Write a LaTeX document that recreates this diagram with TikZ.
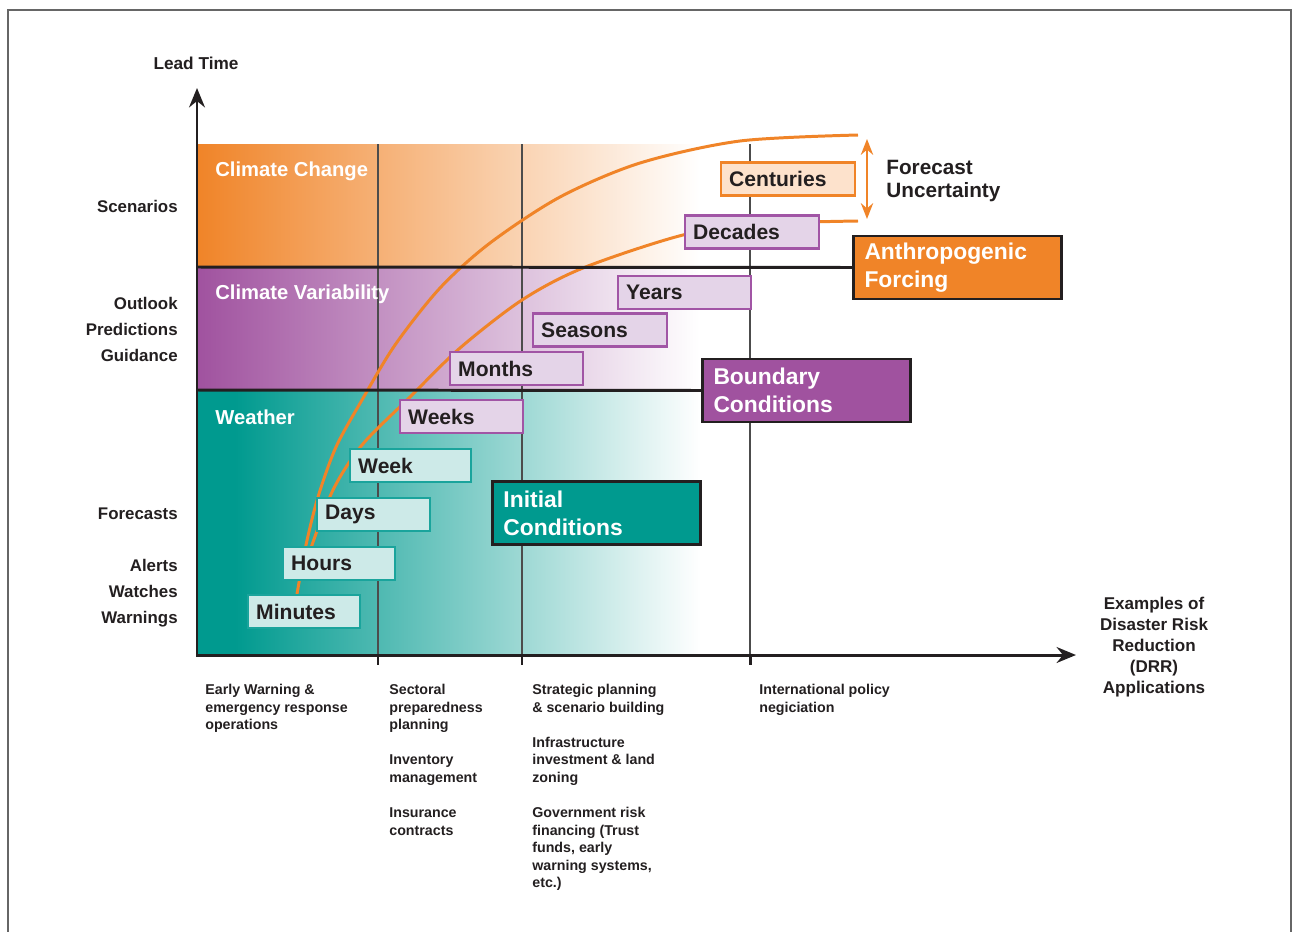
\documentclass[tikz,border=0pt]{standalone}
\usepackage{fontspec}
\setmainfont{Liberation Sans}
\usepackage{xcolor}
\usepackage{tikz}
\usetikzlibrary{arrows.meta, positioning}

\definecolor{ccOrange}{RGB}{240,132,40}
\definecolor{cvPurple}{RGB}{160,82,159}
\definecolor{wxTeal}{RGB}{0,154,143}
\definecolor{tealLight}{RGB}{205,234,232}
\definecolor{tealEdge}{RGB}{26,164,156}
\definecolor{purpleLight}{RGB}{228,212,232}
\definecolor{purpleEdge}{RGB}{161,85,165}
\definecolor{orangeLight}{RGB}{253,226,204}
\definecolor{inkDark}{RGB}{35,31,32}

\begin{document}
\begin{tikzpicture}[x=0.2mm, y=-0.2mm,
	scalebox/.style={draw, line width=1.4pt, minimum height=6.6mm, inner xsep=1.6mm, inner ysep=0pt, anchor=west, align=left, text=inkDark, font=\bfseries\fontsize{12}{14}\selectfont},
	wxbox/.style={scalebox, draw=tealEdge, fill=tealLight},
	cvbox/.style={scalebox, draw=purpleEdge, fill=purpleLight},
	ccbox/.style={scalebox, draw=ccOrange, fill=orangeLight},
	driver/.style={draw=inkDark, line width=1.7pt, minimum height=12.6mm, text width=37.2mm, inner xsep=2.2mm, anchor=west, align=left, text=white, font=\bfseries\fontsize{13}{16}\selectfont},
	bandlabel/.style={anchor=west, inner sep=0pt, text=white, font=\bfseries\fontsize{11.5}{13}\selectfont},
	tier/.style={anchor=east, inner sep=0pt, align=right, text=inkDark, font=\bfseries\fontsize{9.6}{14.8}\selectfont},
	drrtext/.style={anchor=north west, inner sep=0pt, align=left, text=inkDark, font=\bfseries\fontsize{8.1}{10}\selectfont},
	axisline/.style={line width=1.7pt, inkDark, -{Stealth[length=11pt, width=9pt]}},
	divider/.style={line width=1.7pt, inkDark},
	gridline/.style={line width=0.6pt, black!70},
	leadcurve/.style={line width=1.7pt, ccOrange}]

	\useasboundingbox (0,0) rectangle (1293,932);

	% frame
	\draw[black!60, line width=0.8pt] (8,932) -- (8,10) -- (1291,10) -- (1291,932);

	% bands
	\shade[left color=ccOrange, middle color=ccOrange!55!white, right color=white] (197,144) rectangle (700,267);
	\shade[left color=cvPurple, middle color=cvPurple!55!white, right color=white] (197,267) rectangle (700,390);
	\fill[wxTeal] (197,390) rectangle (236,655);
	\shade[left color=wxTeal, middle color=wxTeal!50!white, right color=white] (235,390) rectangle (700,655);

	% guide lines and ticks
	\foreach \gx in {378,522,750} {
		\draw[gridline] (\gx,144) -- (\gx,655);
		\draw[divider] (\gx,655) -- (\gx,665);
	}

	% lead time curves
	\draw[leadcurve] plot[smooth] coordinates {(297,594) (306,545) (318,497) (336,447) (362,400) (395,345) (440,288) (490,243) (560,197) (640,163) (740,141) (858,135)};
	\draw[leadcurve] plot[smooth] coordinates {(311,548) (333,490) (362,445) (410,397) (460,348) (522,300) (583,268) (683,235) (760,224) (858,221)};

	% time scale boxes
	\node[wxbox, text width=19.2mm] (minutes) at (247,611.5) {Minutes};
	\node[wxbox, text width=19.2mm] (hours) at (282,563.5) {Hours};
	\node[wxbox, text width=19.4mm] (days) at (316,514.5) {Days};
	\node[wxbox, text width=21.0mm] (week) at (349,465.5) {Week};
	\node[cvbox, text width=21.4mm] (weeks) at (399,416.5) {Weeks};
	\node[cvbox, text width=23.4mm] (months) at (449,368.5) {Months};
	\node[cvbox, text width=23.6mm] (seasons) at (532,330) {Seasons};
	\node[cvbox, text width=23.4mm] (years) at (617,292.5) {Years};
	\node[cvbox, text width=23.6mm] (decades) at (684,232) {Decades};
	\node[ccbox, text width=23.6mm] (centuries) at (720,179) {Centuries};

	% drivers
	\node[driver, fill=ccOrange] (forcing) at (852,267.5) {Anthropogenic\\Forcing};
	\node[driver, fill=cvPurple] (boundary) at (701,390.5) {Boundary\\Conditions};
	\node[driver, fill=wxTeal] (initial) at (491,513) {Initial\\Conditions};

	% band dividers
	\coordinate (ccFloor) at (196,267);
	\coordinate (cvFloor) at (196,390);
	\draw[divider] (ccFloor) -- (forcing.west);
	\draw[divider] (cvFloor) -- (boundary.west);

	% axes
	\coordinate (o) at (197,656);
	\coordinate (yTip) at (197,88);
	\coordinate (xStart) at (196,655);
	\coordinate (xTip) at (1076,655);
	\draw[axisline] (o) -- (yTip);
	\draw[axisline] (xStart) -- (xTip);

	% forecast uncertainty
	\coordinate (uTop) at (867,139);
	\coordinate (uBot) at (867,219);
	\draw[ccOrange, line width=1.2pt, {Stealth[length=9pt, width=7pt]}-{Stealth[length=9pt, width=7pt]}] (uTop) -- (uBot);
	\node[anchor=west, inner sep=0pt, align=left, text=inkDark, font=\bfseries\fontsize{11.8}{13.2}\selectfont] (uncert) at (886,181) {Forecast\\Uncertainty};

	% band labels
	\node[bandlabel] (ccLabel) at (215,171) {Climate Change};
	\node[bandlabel] (cvLabel) at (215,294) {Climate Variability};
	\node[bandlabel] (wxLabel) at (215,417) {Weather};

	% axis labels
	\node[text=inkDark, font=\bfseries\fontsize{9.8}{12}\selectfont] (leadTime) at (196,63) {Lead Time};
	\node[tier] (scen) at (178,206) {Scenarios};
	\node[tier] (outlook) at (178,329) {Outlook\\Predictions\\Guidance};
	\node[tier] (fcst) at (178,514) {Forecasts};
	\node[tier] (alerts) at (178,593) {Alerts\\Watches\\Warnings};
	\node[align=center, text=inkDark, font=\bfseries\fontsize{9.7}{12}\selectfont] (drr) at (1154,647) {Examples of\\Disaster Risk\\Reduction\\(DRR)\\Applications};

	% applications
	\node[drrtext] (early) at (205,684) {Early Warning \&\\emergency response\\operations};
	\node[drrtext] (sector) at (389,684) {Sectoral\\preparedness\\planning\\[10pt]Inventory\\management\\[10pt]Insurance\\contracts};
	\node[drrtext] (strategic) at (532,684) {Strategic planning\\\& scenario building\\[10pt]Infrastructure\\investment \& land\\zoning\\[10pt]Government risk\\financing (Trust\\funds, early\\warning systems,\\etc.)};
	\node[drrtext] (policy) at (759,684) {International policy\\negiciation};
\end{tikzpicture}
\end{document}
